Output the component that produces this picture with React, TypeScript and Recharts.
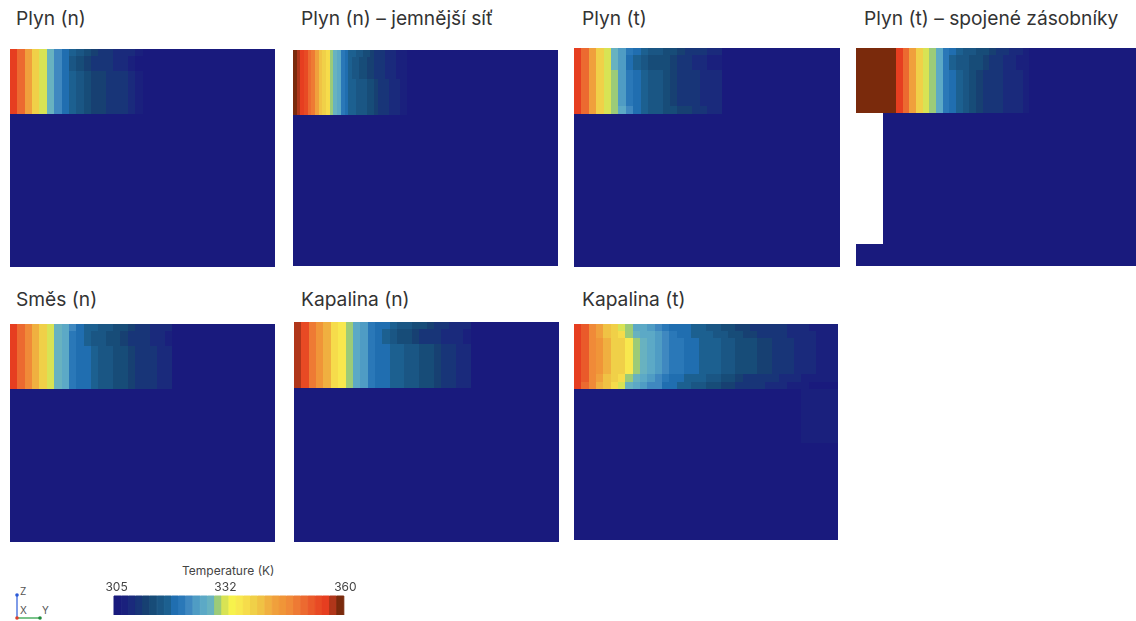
import React from 'react';
import { BarChart, Bar, Cell, XAxis, YAxis } from 'recharts';

// colour bar of the CFD post-processor, 32 steps from 305 K to 360 K
const legendColors = [
  '#191a7d', '#1a207d', '#1a2a7c', '#183578', '#174072', '#174c78', '#1a5684', '#1c6090',
  '#206eb0', '#2a78b8', '#3f88c0', '#4f9cc4', '#5ca9c6', '#68b2c0', '#9ccb78', '#d8e354',
  '#f7f24c', '#f8e84e', '#f6dc4b', '#f0d048', '#f0c244', '#f0b040', '#f0a03c', '#f09538',
  '#f08a38', '#ee7a34', '#ec6a30', '#ea5a2a', '#e84a24', '#e63e20', '#b0361a', '#7a2a0c',
];
const legendTemps = [
  305, 307, 309, 310, 312, 314, 316, 317, 319, 321, 323, 325, 326, 328, 330, 332,
  333, 335, 337, 339, 341, 342, 344, 346, 348, 349, 351, 353, 355, 356, 358, 360,
];
const legendTicks = [305, 332, 360];

const ambient = 305;

// each row is one band of cells, read from left; columns past the end stay at ambient
const plynNTop = [356, 351, 344, 339, 332, 328, 323, 319, 317, 315, 313, 312, 311, 310, 309, 309, 308, 307];
const plynNUpper = [356, 351, 344, 339, 332, 328, 323, 319, 315, 314, 312, 311, 310, 310, 309, 308, 307, 305];
const plynNMain = [356, 351, 344, 339, 332, 328, 323, 319, 317, 316, 314, 312, 312, 311, 310, 310, 309, 307];

const fineTop = [360, 358, 356, 355, 351, 349, 344, 341, 339, 337, 330, 328, 326, 321, 319, 318, 317, 316, 315, 314, 313, 312, 311, 310, 310, 309, 309, 308, 307, 307, 306];
const fineUpper = [360, 358, 356, 355, 351, 349, 344, 341, 339, 337, 330, 328, 326, 321, 319, 317, 316, 315, 314, 313, 312, 312, 311, 310, 310, 309, 309, 308, 307, 307, 306];
const fineMain = [360, 358, 356, 355, 351, 349, 344, 341, 339, 337, 330, 328, 326, 321, 319, 318, 317, 316, 316, 315, 314, 313, 312, 311, 310, 310, 309, 308, 308, 307, 307];

const plynTTop = [356, 351, 344, 339, 332, 328, 325, 321, 319, 317, 316, 315, 314, 313, 312, 311, 310, 310, 309, 309];
const plynTUpper = [356, 351, 344, 339, 332, 328, 325, 320, 318, 316, 314, 313, 313, 312, 311, 310, 309, 309, 307, 307];
const plynTMain = [356, 351, 344, 339, 332, 329, 325, 321, 319, 317, 316, 315, 313, 312, 311, 310, 310, 309, 309, 308];
const plynTBottom = [356, 351, 344, 339, 332, 330, 327, 322, 319, 317, 316, 315, 314, 313, 312, 312, 311, 310, 309, 309];

const joinedTop = [360, 360, 360, 360, 360, 360, 356, 351, 344, 339, 332, 329, 326, 321, 319, 317, 316, 315, 314, 313, 312, 311, 310, 309, 308, 307];
const joinedUpper = [360, 360, 360, 360, 360, 360, 356, 351, 344, 339, 332, 329, 326, 321, 318, 316, 315, 314, 313, 312, 311, 310, 309, 308, 307, 306];
const joinedMain = [360, 360, 360, 360, 360, 360, 356, 351, 344, 339, 332, 329, 326, 321, 319, 317, 315, 313, 312, 311, 311, 310, 309, 308, 308, 306];
const joinedNotch = [null, null, null, null];

const smesTop = [357, 352, 348, 342, 339, 332, 328, 326, 322, 319, 318, 317, 316, 315, 314, 313, 312, 311, 310, 309, 309, 308];
const smesUpper = [357, 352, 348, 342, 339, 332, 328, 326, 321, 320, 318, 316, 315, 314, 313, 312, 311, 310, 310, 309, 308, 307];
const smesMain = [357, 352, 348, 342, 339, 332, 328, 326, 321, 320, 319, 317, 316, 315, 314, 313, 312, 311, 310, 310, 309, 308];

const kapNTop = [358, 354, 349, 345, 342, 337, 335, 330, 327, 324, 321, 320, 319, 318, 316, 315, 314, 313, 312, 311, 310, 309, 309, 308];
const kapNUpper = [358, 354, 349, 345, 342, 337, 335, 330, 327, 324, 321, 319, 318, 316, 314, 313, 312, 311, 310, 310, 309, 309, 308, 307];
const kapNMain = [358, 354, 349, 345, 342, 337, 335, 330, 327, 324, 321, 320, 319, 318, 317, 316, 315, 314, 313, 312, 311, 310, 309, 308];

const kapTTop = [357, 353, 348, 344, 341, 338, 332, 330, 327, 326, 325, 323, 321, 320, 319, 319, 318, 317, 316, 315, 314, 313, 312, 312, 311, 311, 310, 310, 310, 309, 308, 308, 307, 307, 307, 306];
const kapTSecond = [357, 353, 348, 344, 341, 339, 337, 330, 328, 327, 326, 325, 323, 321, 320, 319, 318, 318, 317, 316, 315, 314, 313, 312, 312, 311, 311, 310, 310, 309, 309, 308, 308, 307, 307, 306];
const kapTMiddle = [357, 353, 348, 345, 342, 339, 338, 335, 330, 328, 326, 325, 323, 321, 321, 319, 319, 318, 317, 317, 316, 315, 314, 314, 313, 312, 312, 311, 310, 310, 309, 309, 308, 307, 307, 306];
const kapTLow = [357, 353, 348, 344, 341, 339, 337, 330, 328, 326, 325, 323, 321, 320, 319, 318, 317, 317, 316, 315, 314, 313, 312, 311, 311, 310, 310, 310, 309, 309, 308, 307, 307, 307, 306, 306];
const kapTBottom = [357, 351, 347, 342, 340, 337, 331, 328, 326, 325, 323, 322, 320, 319, 318, 317, 316, 315, 314, 313, 312, 312, 311, 311, 310, 310, 309, 309, 308, 307, 307, 306];
const kapTSide = [305, 305, 305, 305, 305, 305, 305, 305, 305, 305, 305, 305, 305, 305, 305, 305, 305, 305, 305, 305, 305, 305, 305, 305, 305, 305, 305, 305, 305, 305, 305, 307, 307, 307, 307, 307];

const colorOf = (t: number) => legendColors[Math.max(0, Math.min(31, Math.round(((t - 305) / 55) * 31)))];

type Band = { h: number; temps: (number | null)[] };

// bar widths get floored by recharts, so draw on a whole-pixel column grid and squeeze to the panel width
const COL = 8;

const HeatPanel = ({ x, y, w, h, cols, bands }: { x: number; y: number; w: number; h: number; cols: number; bands: Band[] }) => {
  const total = bands.reduce((s, b) => s + b.h, 0);
  const rows = Array.from({ length: cols }, (_, i) => {
    const row: Record<string, number> = { col: i };
    bands.forEach((b, k) => {
      row[`b${k}`] = b.h;
    });
    return row;
  });
  const innerW = cols * COL;
  return (
    <div style={{ position: 'absolute', left: x, top: y, width: w, height: h, overflow: 'hidden', filter: 'blur(0.45px)', shapeRendering: 'crispEdges' }}>
      <div style={{ width: innerW, height: h, transform: `scaleX(${w / innerW})`, transformOrigin: '0 0' }}>
        <BarChart width={innerW} height={h} data={rows} margin={{ top: 0, right: 0, bottom: 0, left: 0 }} barCategoryGap={0} barGap={0}>
          <XAxis dataKey="col" hide />
          <YAxis hide domain={[0, total]} />
          {bands.map((_, k) => bands.length - 1 - k).map((k) => (
            <Bar key={k} dataKey={`b${k}`} stackId="a" isAnimationActive={false}>
              {rows.map((_, i) => {
                const t = i < bands[k].temps.length ? bands[k].temps[i] : ambient;
                return <Cell key={i} fill={t === null ? '#ffffff' : colorOf(t)} />;
              })}
            </Bar>
          ))}
        </BarChart>
      </div>
    </div>
  );
};

const Title = ({ x, y, children }: { x: number; y: number; children: React.ReactNode }) => (
  <div style={{ position: 'absolute', left: x, top: y, fontFamily: 'Inter', fontSize: 19.2, lineHeight: '22px', color: '#333', whiteSpace: 'nowrap' }}>
    {children}
  </div>
);

const LegendTick = ({ x, y, payload }: any) => (
  <text x={x + (payload.value === 360 ? 5 : payload.value === 305 ? -1 : 0)} y={y + 3} textAnchor="middle" fontFamily="Inter" fontSize={12} fill="#444">
    {payload.value}
  </text>
);

const legendRows = legendTemps.map((t) => ({ t, v: 1 }));

export default function App() {
  return (
    <div style={{ position: 'absolute', left: 0, top: 0, width: 1136, height: 621, overflow: 'hidden', background: '#fff' }}>
      <Title x={16} y={7}>Plyn (n)</Title>
      <Title x={301} y={7}>Plyn (n) – jemnější síť</Title>
      <Title x={582} y={7}>Plyn (t)</Title>
      <Title x={864} y={7}>Plyn (t) – spojené zásobníky</Title>
      <Title x={16} y={288}>Směs (n)</Title>
      <Title x={301} y={288}>Kapalina (n)</Title>
      <Title x={582} y={288}>Kapalina (t)</Title>

      <HeatPanel x={10} y={49} w={265} h={218} cols={36} bands={[
        { h: 1, temps: plynNTop }, { h: 2, temps: plynNUpper }, { h: 6, temps: plynNMain }, { h: 21, temps: [] },
      ]} />
      <HeatPanel x={293} y={50} w={265} h={216} cols={72} bands={[
        { h: 1, temps: fineTop }, { h: 3, temps: fineUpper }, { h: 5, temps: fineMain }, { h: 21, temps: [] },
      ]} />
      <HeatPanel x={574} y={48} w={266} h={219} cols={36} bands={[
        { h: 1, temps: plynTTop }, { h: 2, temps: plynTUpper }, { h: 5, temps: plynTMain }, { h: 1, temps: plynTBottom }, { h: 21, temps: [] },
      ]} />
      <HeatPanel x={856} y={48} w={280} h={218} cols={42} bands={[
        { h: 1, temps: joinedTop }, { h: 2, temps: joinedUpper }, { h: 6, temps: joinedMain }, { h: 18, temps: joinedNotch }, { h: 3, temps: [] },
      ]} />
      <HeatPanel x={10} y={324} w={265} h={218} cols={36} bands={[
        { h: 1, temps: smesTop }, { h: 2, temps: smesUpper }, { h: 6, temps: smesMain }, { h: 21, temps: [] },
      ]} />
      <HeatPanel x={294} y={322} w={265} h={220} cols={36} bands={[
        { h: 1, temps: kapNTop }, { h: 2, temps: kapNUpper }, { h: 6, temps: kapNMain }, { h: 21, temps: [] },
      ]} />
      <HeatPanel x={574} y={324} w={264} h={216} cols={36} bands={[
        { h: 1, temps: kapTTop }, { h: 1, temps: kapTSecond }, { h: 5, temps: kapTMiddle }, { h: 1, temps: kapTLow }, { h: 1, temps: kapTBottom },
        { h: 7.5, temps: kapTSide }, { h: 13.5, temps: [] },
      ]} />

      <div style={{ position: 'absolute', left: 182, top: 563, fontFamily: 'Inter', fontSize: 12, color: '#444', whiteSpace: 'nowrap' }}>Temperature (K)</div>
      <div style={{ position: 'absolute', left: 94, top: 576, filter: 'blur(0.4px)' }}>
        <BarChart width={270} height={39} data={legendRows} margin={{ top: 0, right: 20, bottom: 0, left: 20 }} barCategoryGap={0} barGap={0}>
          <XAxis dataKey="t" type="category" orientation="top" ticks={legendTicks} interval={0} tick={<LegendTick />} tickLine={false} axisLine={false} height={20} />
          <YAxis hide domain={[0, 1]} />
          <Bar dataKey="v" isAnimationActive={false}>
            {legendRows.map((_, i) => (
              <Cell key={i} fill={legendColors[i]} stroke={legendColors[i]} strokeWidth={1} />
            ))}
          </Bar>
        </BarChart>
      </div>

      {/* orientation triad */}
      <svg width={60} height={40} style={{ position: 'absolute', left: 0, top: 581 }}>
        <line x1={17} y1={37} x2={17} y2={14} stroke="#2a5ad8" strokeWidth={1.2} />
        <line x1={17} y1={37} x2={40} y2={37} stroke="#1f9a3c" strokeWidth={1.2} />
        <circle cx={17} cy={14} r={1.8} fill="#2a5ad8" />
        <circle cx={40} cy={37} r={1.8} fill="#1f8a3c" />
        <circle cx={17} cy={37} r={1.8} fill="#e0402a" />
        <text x={20} y={14} fontFamily="Inter" fontSize={10} fill="#555">Z</text>
        <text x={20} y={33} fontFamily="Inter" fontSize={10} fill="#555">X</text>
        <text x={42} y={33} fontFamily="Inter" fontSize={10} fill="#555">Y</text>
      </svg>
    </div>
  );
}
